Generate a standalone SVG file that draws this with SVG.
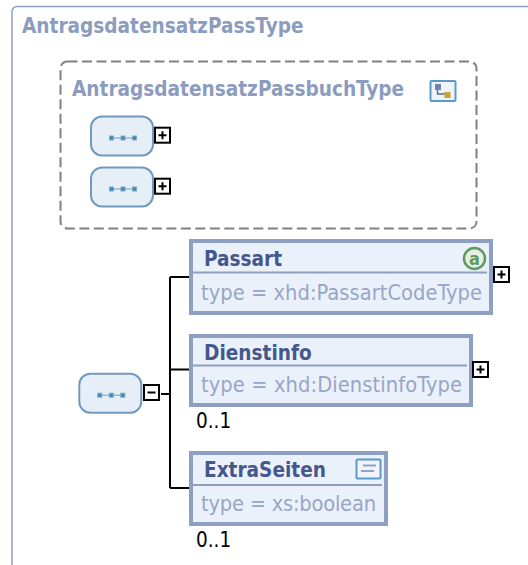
<svg xmlns="http://www.w3.org/2000/svg" width="528" height="565" viewBox="0 0 528 565">
<style>
text{font-family:"DejaVu Sans Condensed","DejaVu Sans",sans-serif}
.t{font-size:20.6px;font-weight:700;fill:#8c9cbf}
.n{font-size:20.6px;font-weight:700;fill:#46578c}
.y{font-size:21.700px;fill:#98a6c6}
.o{font-size:20.500px;fill:#000}
.e{fill:#ebf1fb;stroke:#8f9fc2;stroke-width:4}
.d{stroke:#8f9fc2;stroke-width:2;fill:none}
.s{fill:#e6eff7;stroke:#7199bd;stroke-width:2}
.b{fill:#fff;stroke:#000;stroke-width:2}
.k{stroke:#000;stroke-width:2;fill:none}
.c{stroke:#000;stroke-width:2;fill:none}
.q{fill:#3d86b8;stroke:#7fa9c6;stroke-width:1}
.l{stroke:#6f9fc0;stroke-width:1}
</style>
<defs>
<g id="seq">
<rect class="s" x="0" y="0" width="62" height="39" rx="11"/>
<path class="l" d="M20 21.500H43"/>
<rect class="q" x="18.500" y="19.500" width="4" height="4"/>
<rect class="q" x="30" y="19.500" width="4" height="4"/>
<rect class="q" x="41.500" y="19.500" width="4" height="4"/>
</g>
<g id="plus"><rect class="b" x="0" y="0" width="15" height="15"/><path class="c" d="M3.500 7.500H11.500M7.500 3.500V11.500"/></g>
<g id="minus"><rect class="b" x="0" y="0" width="15" height="15"/><path class="c" d="M3.500 7.500H11.500"/></g>
</defs>
<g id="AntragsdatensatzPassType">
<path d="M528 6.500H17a5 5 0 0 0-5 5V565" fill="none" stroke="#8f9fc2" stroke-width="1.500"/>
<text class="t" x="22" y="33">AntragsdatensatzPassType</text>
</g>
<g id="AntragsdatensatzPassbuchType">
<rect x="60.500" y="61.500" width="416" height="167" rx="7" fill="none" stroke="#808080" stroke-width="2" stroke-dasharray="10 4.500"/>
<text class="t" x="72" y="96">AntragsdatensatzPassbuchType</text>
<rect x="430.500" y="81" width="25" height="20" rx="1" fill="#eef3fa" stroke="#5b9ac8" stroke-width="2"/>
<path d="M437.500 87V94H446" fill="none" stroke="#5a6f9f" stroke-width="1.500"/>
<rect x="435" y="84" width="6" height="6" fill="#6f83b0"/>
<rect x="444.500" y="92" width="6" height="6" fill="#c9a233"/>
</g>
<g id="seq1"><use href="#seq" x="91" y="116.500"/><use href="#plus" x="155" y="127.700"/></g>
<g id="seq2"><use href="#seq" x="91" y="167.500"/><use href="#plus" x="155" y="178.700"/></g>
<g id="connectors">
<path class="k" d="M161 394H170M170 277V488M170 277H189M170 369.500H189M170 488H189"/>
</g>
<g id="seq3"><use href="#seq" x="79.300" y="373.700"/><use href="#minus" x="144" y="385"/></g>
<g id="Passart">
<rect class="e" x="191" y="241" width="300" height="72"/>
<path class="d" d="M193 272.500H487"/>
<text class="n" x="204" y="266">Passart</text>
<text class="y" x="201" y="300" textLength="281">type = xhd:PassartCodeType</text>
<circle cx="474.500" cy="258.500" r="10.500" fill="#e6efe4" stroke="#5f9a5f" stroke-width="2.500"/>
<text x="474.500" y="265" font-size="18" font-weight="700" fill="#5f9a5f" text-anchor="middle">a</text>
<use href="#plus" x="494" y="267"/>
</g>
<g id="Dienstinfo">
<rect class="e" x="191" y="336" width="280" height="69"/>
<path class="d" d="M193 365.500H467"/>
<text class="n" x="204" y="360">Dienstinfo</text>
<text class="y" x="201" y="392" textLength="261">type = xhd:DienstinfoType</text>
<use href="#plus" x="473" y="362"/>
<text class="o" x="196" y="428">0..1</text>
</g>
<g id="ExtraSeiten">
<rect class="e" x="191" y="453" width="195" height="71"/>
<path class="d" d="M193 485H382"/>
<text class="n" x="204" y="477">ExtraSeiten</text>
<text class="y" x="201" y="511" textLength="175">type = xs:boolean</text>
<rect x="356.500" y="459.500" width="24" height="19" rx="1" fill="#f1f5fb" stroke="#5b9ac8" stroke-width="2"/>
<path d="M363 465.500H376M361 471H374" stroke="#8fa3c9" stroke-width="2"/>
<text class="o" x="196" y="547">0..1</text>
</g>
</svg>
